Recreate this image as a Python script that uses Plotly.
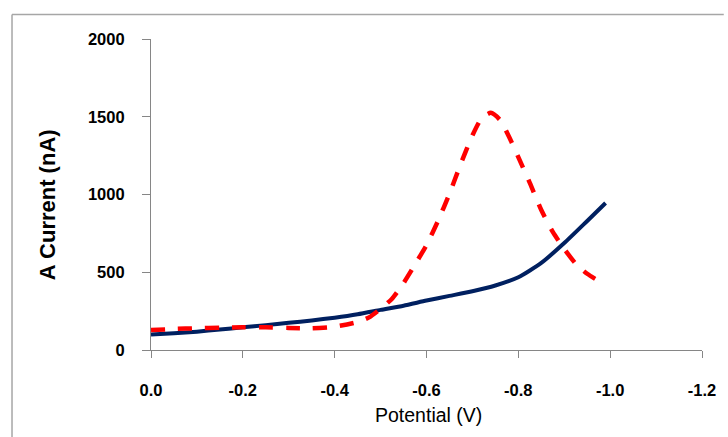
import plotly.graph_objects as go

# Data
potential_blue = [0.00, -0.05, -0.10, -0.15, -0.20, -0.25, -0.30, -0.35, -0.40, -0.45, -0.50,
                  -0.55, -0.60, -0.65, -0.70, -0.75, -0.80, -0.85, -0.90, -0.95, -0.99]
current_blue = [100, 108, 118, 132, 146, 160, 175, 190, 208, 230, 258,
                285, 318, 348, 378, 415, 468, 560, 688, 830, 945]

potential_red = [0.00, -0.05, -0.10, -0.15, -0.20, -0.25, -0.30, -0.35, -0.40, -0.45, -0.475,
                 -0.50, -0.525, -0.55, -0.575, -0.60, -0.625, -0.65, -0.675, -0.70, -0.72,
                 -0.74, -0.76, -0.78, -0.80, -0.825, -0.85, -0.875, -0.90, -0.925, -0.95, -0.99]
current_red = [128, 135, 140, 143, 146, 146, 142, 140, 150, 180, 210,
               265, 330, 430, 550, 675, 830, 1005, 1200, 1380, 1490,
               1525, 1480, 1370, 1240, 1075, 900, 760, 650, 555, 490, 418]

x_tickvals = [0.0, -0.2, -0.4, -0.6, -0.8, -1.0, -1.2]
x_ticktext = ["0.0", "-0.2", "-0.4", "-0.6", "-0.8", "-1.0", "-1.2"]
y_tickvals = [0, 500, 1000, 1500, 2000]
y_ticktext = ["0", "500", "1000", "1500", "2000"]

FONT = "Liberation Sans, Arial, sans-serif"

fig = go.Figure()
fig.add_trace(go.Scatter(x=potential_blue, y=current_blue, mode="lines",
                         line=dict(color="#002060", width=4, shape="spline", smoothing=0.6),
                         showlegend=False))
fig.add_trace(go.Scatter(x=potential_red, y=current_red, mode="lines",
                         line=dict(color="#FF0000", width=4.5, dash="14px,13px",
                                   shape="spline", smoothing=0.6),
                         showlegend=False))

W, H = 728, 437
L, R, T, B = 151, 20, 39, 87
pw, ph = W - L - R, H - T - B

def px(xp):
    return (xp - L) / pw

def py(yp):
    return (H - B - yp) / ph

fig.update_layout(
    width=W, height=H,
    margin=dict(l=L, r=R, t=T, b=B),
    paper_bgcolor="white", plot_bgcolor="white",
    font=dict(family=FONT, color="black"),
    xaxis=dict(range=[0, -1.2], tickvals=x_tickvals, ticktext=x_ticktext,
               showgrid=False, zeroline=False, showline=True, linecolor="#868686", linewidth=1.2,
               ticks="outside", ticklen=7, tickcolor="#868686", tickwidth=1.2,
               tickfont=dict(family=FONT, size=16.5, color="black", weight="bold"),
               ticklabelstandoff=18),
    yaxis=dict(range=[0, 2000], tickvals=y_tickvals, ticktext=y_ticktext,
               showgrid=False, zeroline=False, showline=True, linecolor="#868686", linewidth=1.2,
               ticks="outside", ticklen=8, tickcolor="#868686", tickwidth=1.2,
               tickfont=dict(family=FONT, size=16.5, color="black", weight="bold"),
               ticklabelstandoff=14),
    annotations=[
        dict(text="Potential (V)", x=px(432), y=py(415), xref="paper", yref="paper",
             showarrow=False, xanchor="center", yanchor="middle",
             font=dict(family=FONT, size=19.5, color="black")),
        dict(text="A Current (nA)", x=px(46), y=py(205), xref="paper", yref="paper",
             showarrow=False, xanchor="center", yanchor="middle", textangle=-90,
             font=dict(family=FONT, size=22, color="black", weight="bold")),
    ],
    shapes=[
        dict(type="line", xref="paper", yref="paper", x0=px(10.5), x1=px(W + 2),
             y0=py(14.5), y1=py(14.5), line=dict(color="#A6A6A6", width=1.5)),
        dict(type="line", xref="paper", yref="paper", x0=px(10.5), x1=px(10.5),
             y0=py(14.5), y1=py(H + 2), line=dict(color="#A6A6A6", width=1.5)),
    ],
)

fig.write_html("out.html")
